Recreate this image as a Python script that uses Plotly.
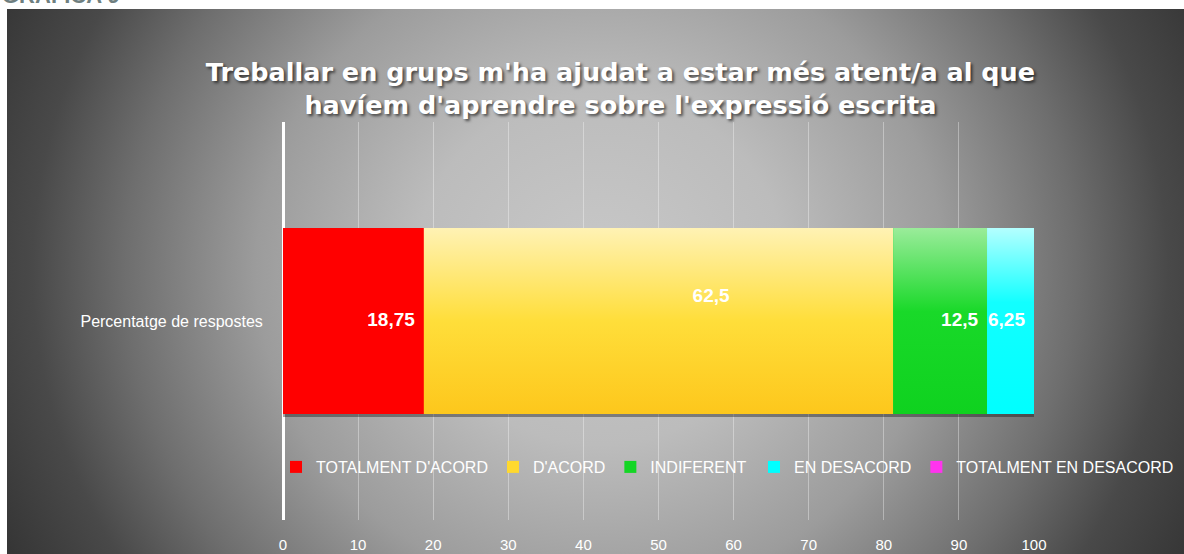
import base64
import plotly.graph_objects as go

# ---- data ----
category = "Percentatge de respostes"
answers = ["TOTALMENT D'ACORD", "D'ACORD", "INDIFERENT", "EN DESACORD", "TOTALMENT EN DESACORD"]
values = [18.75, 62.5, 12.5, 6.25, 0]
x_ticks = [0, 10, 20, 30, 40, 50, 60, 70, 80, 90, 100]
title_lines = ["Treballar en grups m'ha ajudat a estar més atent/a al que",
               "havíem d'aprendre sobre l'expressió escrita"]
header_text = "GRÀFICA 9"

# ---- styles ----
base_colors = ["#ff0000", "#ffd92e", "#14d624", "#00ffff", "#ff33ee"]
gradients = [
    None,
    [[0, "#fdc71c"], [0.5, "#ffde3a"], [1, "#fff2b4"]],
    [[0, "#0fd21f"], [0.55, "#19d929"], [1, "#9aec9a"]],
    [[0, "#00ffff"], [0.6, "#12ffff"], [1, "#b4ffff"]],
    None,
]
legend_group = ["legend", "legend", "legend", "legend2", "legend2"]
BAR_W = 0.467
W, H = 1184, 554
L, R, T, B = 283, 150, 122, 34

# background radial gradient (SVG data URI)
bg_w, bg_h = W - 7, H - 9
svg = f'''<svg xmlns="http://www.w3.org/2000/svg" width="{bg_w}" height="{bg_h}" viewBox="0 0 {bg_w} {bg_h}" preserveAspectRatio="none">
<defs><radialGradient id="g" gradientUnits="userSpaceOnUse" cx="593" cy="260" r="660"
 gradientTransform="translate(593 260) scale(1 0.95) translate(-593 -260)">
<stop offset="0" stop-color="#c8c8c8"/>
<stop offset="0.28" stop-color="#bcbcbc"/>
<stop offset="0.52" stop-color="#9c9c9c"/>
<stop offset="0.72" stop-color="#6e6e6e"/>
<stop offset="0.86" stop-color="#494949"/>
<stop offset="1" stop-color="#363636"/>
</radialGradient></defs>
<rect x="0" y="0" width="{bg_w}" height="{bg_h}" fill="url(#g)"/></svg>'''
bg_uri = "data:image/svg+xml;base64," + base64.b64encode(svg.encode()).decode()

fig = go.Figure()

# bars (legend + base colors)
for name, v, c, lg in zip(answers, values, base_colors, legend_group):
    fig.add_trace(go.Bar(
        x=[v], y=[0], orientation="h", name=name, width=BAR_W, legend=lg,
        marker=dict(color=c, line=dict(width=0)), hoverinfo="skip",
    ))

# subtle shadow under the bar (spans the stacked total)
total = sum(values)
fig.add_trace(go.Scatter(
    x=[0, total], y=[-BAR_W / 2 - 0.004, -BAR_W / 2 - 0.004], mode="lines",
    line=dict(color="rgba(0,0,0,0.35)", width=3), showlegend=False, hoverinfo="skip",
))

# gradient overlays computed from the data
start = 0
ends = []
for name, v, g in zip(answers, values, gradients):
    end = start + v
    ends.append((start, end))
    if g is not None and v > 0:
        fig.add_trace(go.Scatter(
            x=[start, end, end, start, start],
            y=[-BAR_W / 2, -BAR_W / 2, BAR_W / 2, BAR_W / 2, -BAR_W / 2],
            mode="lines", line=dict(width=0), fill="toself",
            fillgradient=dict(type="vertical", colorscale=g),
            showlegend=False, hoverinfo="skip",
        ))
    start = end

# data labels
lab_x, lab_y, lab_t, lab_pos = [], [], [], []
for i, (v, (s, e)) in enumerate(zip(values, ends)):
    if v <= 0:
        continue
    txt = f"{v:g}".replace(".", ",")
    if i == 1:
        lab_x.append((s + e) / 2 + 7)
        lab_y.append(0.06)
        lab_pos.append("middle center")
    else:
        lab_x.append(e - 1.2)
        lab_y.append(0)
        lab_pos.append("middle left")
    lab_t.append(txt)
fig.add_trace(go.Scatter(
    x=lab_x, y=lab_y, mode="text", text=lab_t, textposition=lab_pos,
    textfont=dict(family="Liberation Sans, Arial, sans-serif", size=19, color="white", weight="bold"),
    showlegend=False, hoverinfo="skip",
))

fig.add_layout_image(dict(
    source=bg_uri, xref="paper", yref="paper",
    x=(7 - L) / (W - L - R), y=1 + (T - 9) / (H - T - B),
    sizex=bg_w / (W - L - R), sizey=bg_h / (H - T - B),
    xanchor="left", yanchor="top", sizing="stretch", layer="below",
))

fig.add_annotation(
    text=f"<b>{header_text}</b>", xref="paper", yref="paper",
    x=(0 - L) / (W - L - R), xanchor="left",
    y=1 + (T - 10) / (H - T - B), yanchor="bottom",
    showarrow=False, font=dict(family="Liberation Sans, Arial", size=22, color="#6f7f80"),
)

legend_font = dict(family="Liberation Sans, Arial, sans-serif", size=16, color="white")
fig.update_layout(
    width=W, height=H,
    margin=dict(l=L, r=R, t=T, b=B, autoexpand=False),
    paper_bgcolor="white", plot_bgcolor="rgba(0,0,0,0)",
    barmode="stack", separators=",.",
    title=dict(
        text="<br>".join(title_lines), x=0.524, xanchor="center", xref="container",
        y=1 - 81 / H, yanchor="top", yref="container",
        font=dict(family="DejaVu Sans, Roboto, sans-serif", size=25.5, color="white", weight="bold",
                  shadow="2px 2px 3px rgba(0,0,0,0.6)"),
    ),
    legend=dict(
        orientation="h", xref="container", yref="container",
        x=276 / W, xanchor="left", y=1 - 467 / H, yanchor="middle",
        bgcolor="rgba(0,0,0,0)", itemwidth=30, traceorder="normal", font=legend_font,
    ),
    legend2=dict(
        orientation="h", xref="container", yref="container",
        x=754 / W, xanchor="left", y=1 - 467 / H, yanchor="middle",
        bgcolor="rgba(0,0,0,0)", itemwidth=30, traceorder="normal", font=legend_font,
    ),
    xaxis=dict(
        range=[0, 100], tickvals=x_ticks, showgrid=True, automargin=False,
        gridcolor="rgba(255,255,255,0.35)", gridwidth=1,
        zeroline=True, zerolinecolor="white", zerolinewidth=2.5,
        showline=False, ticks="outside", ticklen=11, tickcolor="rgba(0,0,0,0)",
        tickfont=dict(family="Liberation Sans, Arial, sans-serif", size=15, color="white"),
        fixedrange=True,
    ),
    yaxis=dict(
        range=[-0.5, 0.5], tickvals=[0], ticktext=[category], showgrid=False,
        zeroline=False, showline=False, ticks="outside", ticklen=16, automargin=False,
        tickcolor="rgba(0,0,0,0)",
        tickfont=dict(family="Liberation Sans, Arial, sans-serif", size=16, color="white"),
        fixedrange=True,
    ),
    showlegend=True,
)

fig.write_html(
    "out.html",
    config={"displayModeBar": False},
    post_script="document.body.style.margin='0';document.body.style.overflow='hidden';",
)
